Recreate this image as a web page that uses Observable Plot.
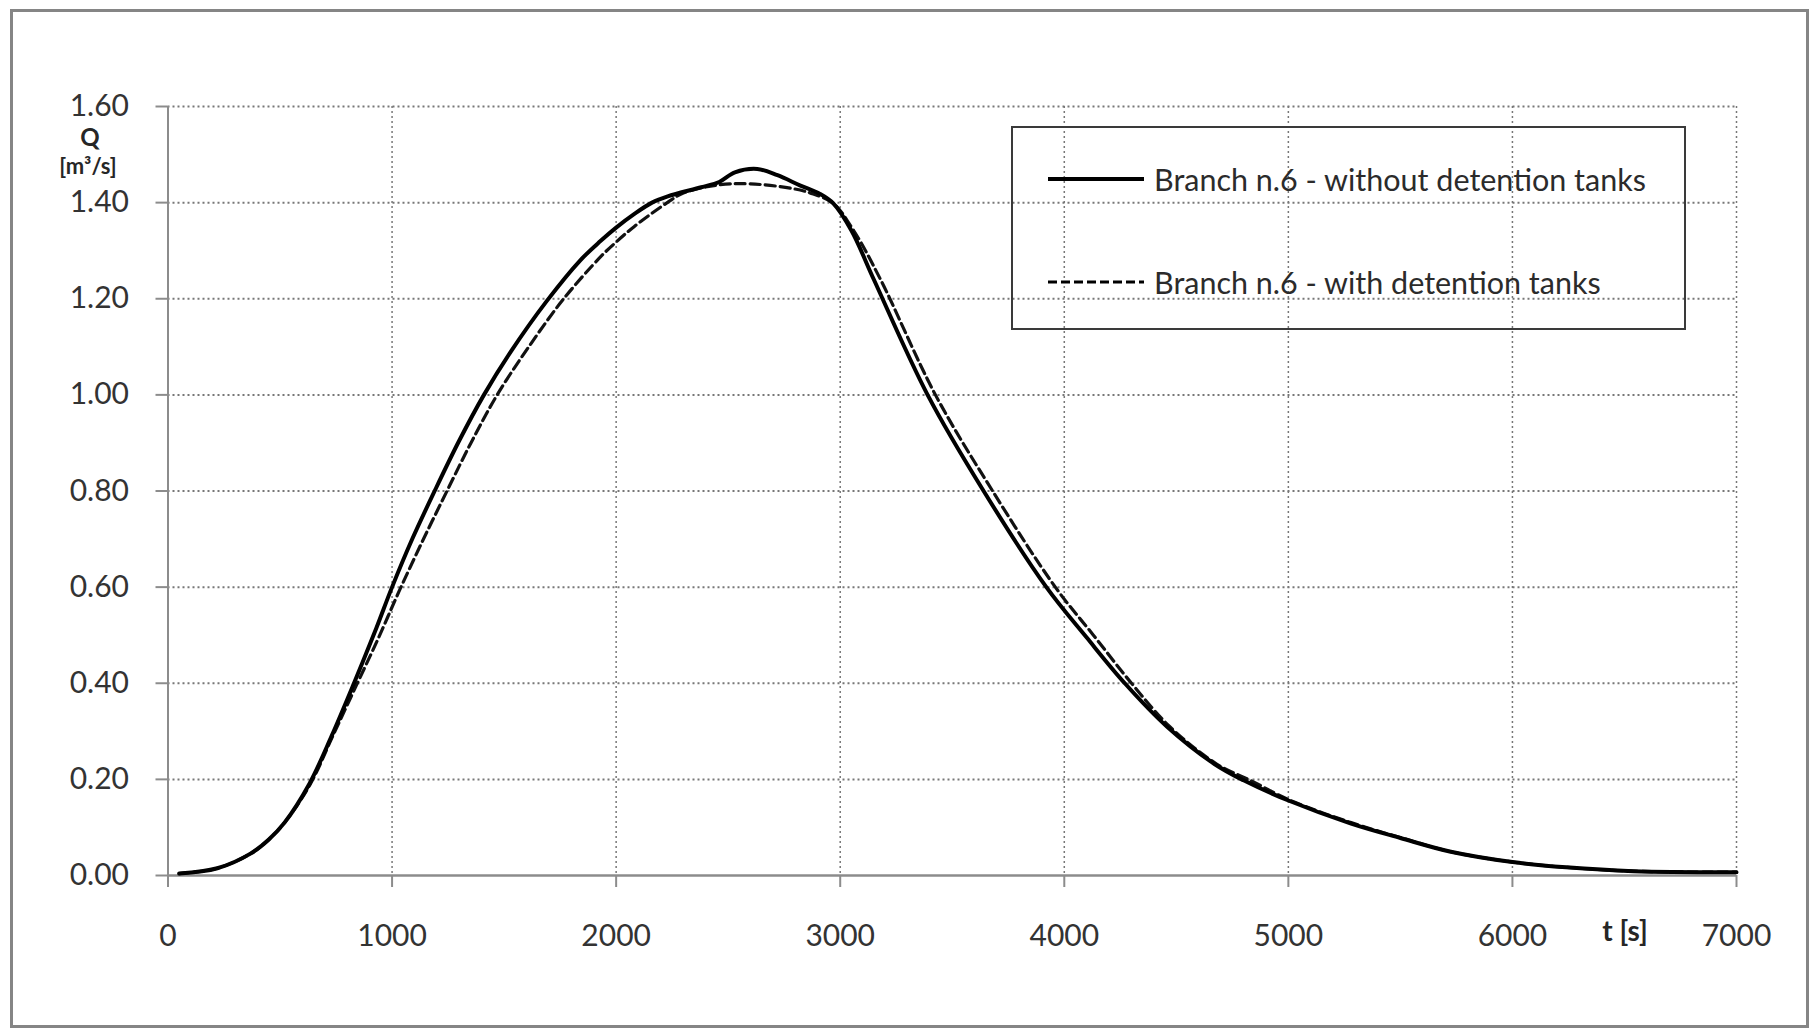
<!DOCTYPE html>
<html><head><meta charset="utf-8">
<script src="https://cdn.jsdelivr.net/npm/d3@7"></script>
<script src="https://cdn.jsdelivr.net/npm/@observablehq/plot@0.6"></script>
<style>
body{margin:0;background:#fff;}
#wrap{position:relative;width:1811px;height:1030px;font-family:Lato,"Open Sans",sans-serif;overflow:hidden;}
#border{position:absolute;left:10px;top:9px;width:1799px;height:1019px;border:3px solid #858585;box-sizing:border-box;pointer-events:none;}
#chart{position:absolute;left:0;top:0;}
.lab{position:absolute;font-weight:bold;color:#262626;white-space:nowrap;line-height:1;transform:translate(-50%,-50%);}
#legend{position:absolute;left:1011px;top:126px;width:675px;height:204px;border:2px solid #3a3a3a;box-sizing:border-box;}
.lg{position:absolute;left:0;top:0;width:100%;height:100%;}
.lt{position:absolute;font-size:30.5px;line-height:1;color:#2b2b2b;white-space:nowrap;transform:translateY(-50%);}
</style></head>
<body>
<div id="wrap">
  <div id="chart"></div>
  <div class="lab" style="left:90px;top:137px;font-size:24px;">Q</div>
  <div class="lab" style="left:88px;top:166px;font-size:22px;">[m³/s]</div>
  <div class="lab" style="left:1625px;top:930px;font-size:28px;">t [s]</div>
  <div id="legend"></div>
  <div id="border"></div>
</div>
<script>
// Series: Branch n.6 - without detention tanks
const tWithout = [50, 220, 370, 450, 520, 630, 730, 830, 930, 1000, 1090, 1190, 1300, 1410, 1530, 1690, 1840, 1930, 2000, 2080, 2160, 2230, 2380, 2460, 2530, 2630, 2720, 2820, 2910, 2970, 3050, 3150, 3390, 3640, 3920, 4100, 4270, 4460, 4670, 4800, 5000, 5280, 5500, 5720, 6000, 6240, 6540, 7000];
const qWithout = [0.004, 0.015, 0.046, 0.075, 0.11, 0.19, 0.29, 0.40, 0.515, 0.60, 0.70, 0.80, 0.905, 1.00, 1.09, 1.195, 1.28, 1.32, 1.348, 1.376, 1.40, 1.413, 1.432, 1.443, 1.463, 1.470, 1.457, 1.436, 1.418, 1.398, 1.342, 1.24, 1.00, 0.80, 0.60, 0.495, 0.40, 0.309, 0.232, 0.198, 0.156, 0.108, 0.078, 0.050, 0.028, 0.017, 0.009, 0.007];
// Series: Branch n.6 - with detention tanks
const tWith = [50, 220, 370, 450, 520, 635, 735, 840, 940, 1030, 1135, 1245, 1352, 1469, 1610, 1766, 1930, 2000, 2080, 2228, 2300, 2460, 2600, 2790, 2880, 2970, 3060, 3180, 3425, 3680, 3960, 4130, 4300, 4470, 4680, 4830, 5000, 5280, 5500, 5720, 6000, 6240, 6540, 7000];
const qWith = [0.004, 0.015, 0.046, 0.075, 0.11, 0.19, 0.29, 0.395, 0.495, 0.59, 0.695, 0.80, 0.90, 1.00, 1.10, 1.20, 1.287, 1.318, 1.35, 1.40, 1.42, 1.437, 1.439, 1.429, 1.418, 1.398, 1.342, 1.24, 1.00, 0.80, 0.60, 0.50, 0.40, 0.31, 0.232, 0.198, 0.158, 0.11, 0.079, 0.050, 0.028, 0.017, 0.009, 0.007];
const seriesNames = ["Branch n.6 - without detention tanks", "Branch n.6 - with detention tanks"];
const xTicks = [0, 1000, 2000, 3000, 4000, 5000, 6000, 7000];
const yTicks = [0, 0.2, 0.4, 0.6, 0.8, 1.0, 1.2, 1.4, 1.6];

const without = tWithout.map((t, i) => ({t, q: qWithout[i]}));
const withT = tWith.map((t, i) => ({t, q: qWith[i]}));

const grid = {stroke: "#777", strokeOpacity: 1, strokeWidth: 2, strokeDasharray: "2,3"};
const plot = Plot.plot({
  width: 1811, height: 1030,
  marginLeft: 167.5, marginRight: 75, marginTop: 106, marginBottom: 155,
  x: {domain: [0, 7000]},
  y: {domain: [0, 1.6]},
  style: {fontFamily: "Lato, 'Open Sans', sans-serif", fontSize: "30px", color: "#333", background: "transparent", overflow: "visible"},
  marks: [
    Plot.gridY(yTicks.slice(1), grid),
    Plot.gridX(xTicks.slice(1), {...grid, strokeWidth: 1.5}),
    Plot.axisY(yTicks, {tickSize: 12, tickPadding: 27, tickFormat: d => d.toFixed(2), label: null, stroke: "#8c8c8c", strokeWidth: 2}),
    Plot.axisX(xTicks, {tickSize: 12, tickPadding: 37, tickFormat: d => String(d), label: null, stroke: "#8c8c8c", strokeWidth: 2}),
    Plot.ruleY([0], {stroke: "#8c8c8c", strokeWidth: 2.5}),
    Plot.ruleX([0], {stroke: "#8c8c8c", strokeWidth: 2}),
    Plot.line(withT, {x: "t", y: "q", curve: "catmull-rom", stroke: "#111", strokeWidth: 3.2, strokeDasharray: "10,5"}),
    Plot.line(without, {x: "t", y: "q", curve: "catmull-rom", stroke: "#000", strokeWidth: 4})
  ]
});
document.getElementById("chart").appendChild(plot);

// Legend (transparent box, as in the original)
const lg = document.getElementById("legend");
const ns = "http://www.w3.org/2000/svg";
const svg = document.createElementNS(ns, "svg");
svg.setAttribute("class", "lg");
const rows = [{y: 51, dash: null, w: 4}, {y: 154, dash: "9,4", w: 3.2}];
rows.forEach((r, i) => {
  const l = document.createElementNS(ns, "line");
  l.setAttribute("x1", 35); l.setAttribute("x2", 131);
  l.setAttribute("y1", r.y); l.setAttribute("y2", r.y);
  l.setAttribute("stroke", "#000"); l.setAttribute("stroke-width", r.w);
  if (r.dash) l.setAttribute("stroke-dasharray", r.dash);
  svg.appendChild(l);
  const d = document.createElement("div");
  d.className = "lt"; d.style.left = "141px"; d.style.top = r.y + "px";
  d.textContent = seriesNames[i];
  lg.appendChild(d);
});
lg.appendChild(svg);
</script>
</body></html>
